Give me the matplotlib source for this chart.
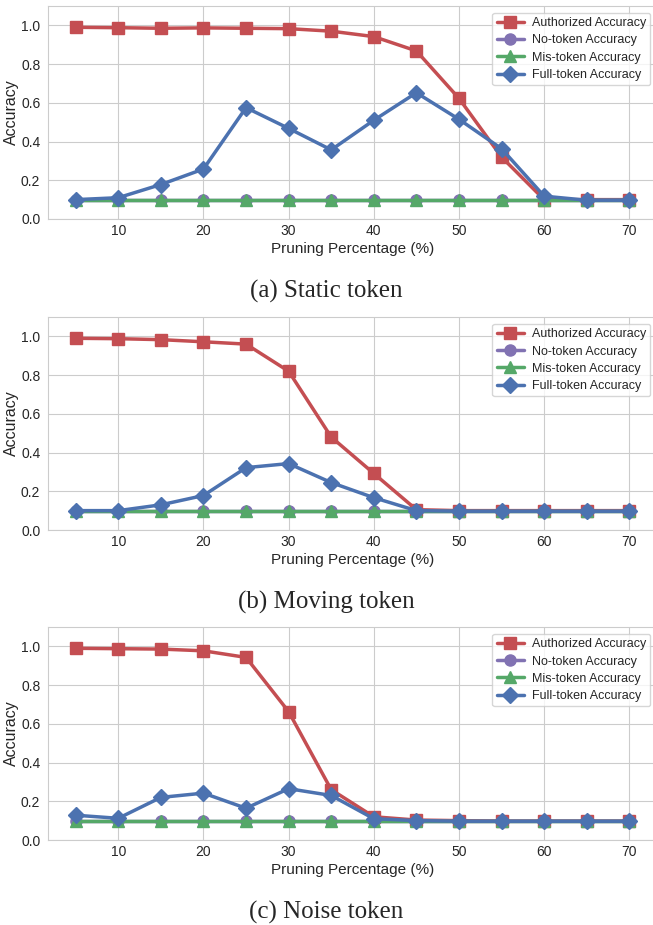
import numpy as np
import seaborn as sns
from matplotlib import pyplot as plt

sns.set_style("whitegrid")
plt.rcParams['font.family'] = ['Liberation Sans', 'DejaVu Sans']

pruning = [5, 10, 15, 20, 25, 30, 35, 40, 45, 50, 55, 60, 65, 70]

static_auth = [0.990, 0.988, 0.985, 0.987, 0.985, 0.983, 0.970, 0.942, 0.868, 0.623, 0.320, 0.100, 0.100, 0.100]
static_full = [0.100, 0.110, 0.178, 0.258, 0.575, 0.468, 0.357, 0.510, 0.652, 0.515, 0.363, 0.118, 0.097, 0.097]

moving_auth = [0.990, 0.988, 0.983, 0.972, 0.960, 0.820, 0.480, 0.292, 0.105, 0.100, 0.100, 0.100, 0.100, 0.100]
moving_full = [0.100, 0.100, 0.130, 0.178, 0.322, 0.343, 0.245, 0.167, 0.100, 0.097, 0.097, 0.097, 0.097, 0.097]

noise_auth = [0.990, 0.988, 0.986, 0.977, 0.943, 0.663, 0.260, 0.120, 0.103, 0.100, 0.098, 0.098, 0.098, 0.098]
noise_full = [0.128, 0.112, 0.220, 0.242, 0.164, 0.265, 0.230, 0.110, 0.100, 0.097, 0.097, 0.097, 0.097, 0.097]

no_token = [0.098] * 14
mis_token = [0.097] * 14

panels = [
    ("(a) Static token", static_auth, static_full),
    ("(b) Moving token", moving_auth, moving_full),
    ("(c) Noise token", noise_auth, noise_full),
]

colors = {'auth': '#C44E52', 'no': '#8172B2', 'mis': '#55A868', 'full': '#4C72B0'}

fig = plt.figure(figsize=(6.53, 9.25), dpi=100)
# axes bottoms and caption centres, in pixels from the top
bottoms = [219, 530, 840]
captions = [291, 602, 912]

for (caption, auth, full), b, cy in zip(panels, bottoms, captions):
    ax = fig.add_axes([48/653, 1 - b/925, 609/653, 213/925])
    ax.plot(pruning, auth, color=colors['auth'], marker='s', lw=2.5, ms=8, label='Authorized Accuracy')
    ax.plot(pruning, no_token, color=colors['no'], marker='o', lw=2.5, ms=8, label='No-token Accuracy')
    ax.plot(pruning, mis_token, color=colors['mis'], marker='^', lw=2.5, ms=8, label='Mis-token Accuracy')
    ax.plot(pruning, full, color=colors['full'], marker='D', lw=2.5, ms=8, label='Full-token Accuracy')
    ax.set_ylim(0, 1.1)
    ax.set_xticks([10, 20, 30, 40, 50, 60, 70])
    ax.set_yticks([0.0, 0.2, 0.4, 0.6, 0.8, 1.0])
    ax.tick_params(labelsize=10, length=0)
    ax.tick_params(axis='x', pad=3.5)
    ax.tick_params(axis='y', pad=5.5)
    ax.set_xlabel('Pruning Percentage (%)', fontsize=11, labelpad=3)
    ax.set_ylabel('Accuracy', fontsize=11.5, labelpad=1.5)
    ax.legend(loc='upper right', fontsize=9, frameon=True, borderpad=0.35,
              handlelength=2.2, handletextpad=0.6, labelspacing=0.42,
              borderaxespad=0.55)
    fig.text(0.5, 1 - cy/925, caption, ha='center', va='center', fontsize=18,
             family='Liberation Serif')

fig.savefig('out.png', dpi=100)
